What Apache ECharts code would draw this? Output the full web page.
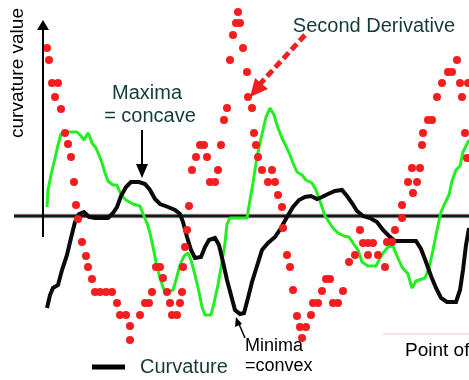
<!DOCTYPE html>
<html><head><meta charset="utf-8">
<script src="https://cdn.jsdelivr.net/npm/echarts@6/dist/echarts.min.js"></script>
<style>html,body{margin:0;padding:0;background:#fff}#c{width:469px;height:380px}</style>
</head><body><div id="c"></div>
<script>
// x = sample position (distance from the vertical axis), y = value (0 = baseline)
const curvature = [[4,-92],[7,-79],[10,-72],[15,-69],[19,-54],[24,-39],[28,-22],[32,-6],[36,2],[41,4],[46,-1],[52,-2],[65,-2],[70,3],[74,9],[78,20],[83,29],[88,34],[96,34],[102,32],[107,26],[112,17],[117,12],[125,9],[132,6],[137,2],[140,-6],[144,-21],[148,-34],[152,-42],[158,-41],[162,-31],[166,-24],[172,-22],[176,-29],[180,-46],[184,-64],[188,-79],[192,-94],[197,-98],[201,-97],[205,-82],[209,-66],[214,-50],[219,-34],[225,-27],[232,-21],[238,-12],[244,-1],[250,9],[256,16],[262,19],[268,20],[274,17],[279,19],[285,22],[292,25],[299,26],[304,20],[309,13],[314,5],[320,0],[327,-2],[334,-6],[340,-14],[346,-20],[352,-25],[373,-25],[378,-33],[383,-46],[388,-60],[393,-72],[398,-82],[404,-86],[413,-86],[417,-74],[420,-54],[423,-29],[426,-12]];
const firstDerivative = [[4,9],[5,26],[8,41],[12,58],[15,71],[18,82],[22,84],[34,84],[38,80],[41,76],[45,83],[47,79],[49,73],[53,68],[56,61],[59,53],[62,43],[65,35],[70,31],[74,31],[76,26],[79,20],[83,16],[90,12],[97,10],[100,2],[104,-7],[107,-17],[110,-31],[113,-46],[117,-62],[121,-74],[125,-76],[130,-74],[133,-64],[137,-49],[141,-40],[145,-37],[148,-44],[152,-59],[156,-76],[159,-91],[162,-99],[168,-99],[171,-87],[175,-69],[179,-46],[182,-27],[184,-8],[187,-2],[204,-2],[207,16],[210,33],[213,53],[216,69],[220,86],[223,99],[227,108],[231,101],[235,88],[239,78],[243,70],[247,61],[250,53],[254,44],[259,41],[263,36],[269,33],[273,26],[276,18],[279,9],[282,0],[286,-6],[290,-12],[295,-17],[301,-20],[306,-21],[310,-27],[315,-34],[319,-46],[325,-50],[333,-50],[337,-42],[341,-36],[345,-31],[350,-30],[354,-40],[359,-51],[365,-58],[369,-72],[373,-65],[382,-62],[386,-52],[390,-34],[394,-14],[398,4],[402,13],[406,21],[409,35],[413,46],[417,50],[420,64],[423,70],[426,76]];
const secondDerivative = [[4,168],[6,156],[9,133],[15,133],[12,119],[18,107],[22,83],[25,72],[28,59],[31,34],[33,11],[35,-3],[39,-26],[43,-40],[45,-51],[49,-63],[52,-76],[57,-76],[63,-76],[69,-76],[74,-87],[77,-99],[83,-99],[87,-110],[87,-124],[97,-99],[102,-87],[106,-87],[109,-76],[113,-51],[117,-51],[120,-62],[124,-76],[127,-87],[129,-99],[134,-99],[137,-87],[139,-76],[140,-51],[142,-31],[144,-14],[146,10],[149,46],[153,59],[157,71],[161,71],[164,59],[167,34],[172,34],[175,46],[178,71],[181,96],[184,108],[187,156],[190,181],[193,193],[195,204],[197,193],[200,168],[204,144],[205,119],[209,108],[211,83],[213,71],[215,59],[219,46],[229,46],[225,34],[232,34],[235,21],[239,9],[240,-12],[244,-39],[247,-51],[250,-74],[254,-100],[257,-111],[263,-111],[259,-122],[268,-99],[270,-87],[275,-87],[279,-75],[283,-63],[287,-63],[290,-87],[295,-87],[300,-75],[306,-46],[312,-39],[317,-14],[320,-27],[325,-27],[330,-27],[325,-39],[335,-39],[342,-51],[344,-26],[349,-26],[352,-14],[359,-2],[359,11],[370,23],[365,34],[374,34],[369,48],[377,48],[379,71],[380,83],[385,96],[389,96],[394,119],[399,133],[405,144],[409,144],[414,156],[417,133],[419,119],[422,83],[424,58],[425,133]];
const baseline = [[-29,0],[426,0]];

const FONT = '"Liberation Sans", Arial, Helvetica, sans-serif';
const TEAL = '#143a3a';
const chart = echarts.init(document.getElementById('c'), null, {renderer:'canvas'});
chart.setOption({
  animation:false,
  backgroundColor:'#fff',
  grid:{left:0,right:0,top:0,bottom:0},
  xAxis:{type:'value',min:-43,max:426,show:false},
  yAxis:{type:'value',min:-164,max:216,show:false},
  series:[
    {type:'line',data:[[340,-118],[426,-118]],symbol:'none',silent:true,lineStyle:{color:'#fae4e4',width:2},z:1},
    {type:'line',data:baseline,symbol:'none',lineStyle:{color:'#f8c4c4',width:5},z:2},
    {type:'line',data:baseline,symbol:'none',lineStyle:{color:'#061c1c',width:3},z:3},
    {type:'line',name:'First Derivative',data:firstDerivative,symbol:'none',lineStyle:{color:'#22ee22',width:3},z:4},
    {type:'line',name:'Curvature',data:curvature,symbol:'none',lineStyle:{color:'#0a0a0a',width:4,join:'miter'},z:5},
    {type:'scatter',name:'Second Derivative',data:secondDerivative,symbol:'circle',symbolSize:8,itemStyle:{color:'#f41e1e',opacity:1},z:6}
  ],
  graphic:[
    {type:'line',shape:{x1:43,y1:237,x2:43,y2:28},style:{stroke:'#000',lineWidth:2},z:10},
    {type:'polygon',shape:{points:[[37,30],[49,30],[43,20]]},style:{fill:'#000'},z:10},
    {type:'text',x:18,y:73,rotation:Math.PI/2,style:{text:'curvature value',font:'19px '+FONT,fill:'#000',align:'center',verticalAlign:'middle'},z:10},
    {type:'text',x:147,y:93,style:{text:'Maxima',font:'20px '+FONT,fill:TEAL,align:'center',verticalAlign:'middle'},z:10},
    {type:'text',x:150,y:116,style:{text:'= concave',font:'20px '+FONT,fill:TEAL,align:'center',verticalAlign:'middle'},z:10},
    {type:'line',shape:{x1:142,y1:130,x2:142,y2:166},style:{stroke:'#000',lineWidth:2},z:10},
    {type:'polygon',shape:{points:[[136,164],[148,164],[142,178]]},style:{fill:'#000'},z:10},
    {type:'text',x:374,y:26,style:{text:'Second Derivative',font:'20px '+FONT,fill:TEAL,align:'center',verticalAlign:'middle'},z:10},
    {type:'line',shape:{x1:305,y1:35,x2:260,y2:84},style:{stroke:'#f41e1e',lineWidth:5,lineDash:[8,4]},z:10},
    {type:'polygon',shape:{points:[[250,97],[255,78],[268,89]]},style:{fill:'#f41e1e'},z:10},
    {type:'line',shape:{x1:92,y1:367,x2:125,y2:367},style:{stroke:'#000',lineWidth:5},z:10},
    {type:'text',x:140,y:367,style:{text:'Curvature',font:'20px '+FONT,fill:TEAL,align:'left',verticalAlign:'middle'},z:10},
    {type:'line',shape:{x1:245,y1:338,x2:239,y2:324},style:{stroke:'#000',lineWidth:1.5},z:10},
    {type:'polygon',shape:{points:[[236,317],[235,327],[242,324]]},style:{fill:'#000'},z:10},
    {type:'text',x:245,y:346,style:{text:'Minima',font:'18px '+FONT,fill:'#000',align:'left',verticalAlign:'middle'},z:10},
    {type:'text',x:245,y:366,style:{text:'=convex',font:'18px '+FONT,fill:'#000',align:'left',verticalAlign:'middle'},z:10},
    {type:'text',x:405,y:351,style:{text:'Point of inflection',font:'19px '+FONT,fill:'#000',align:'left',verticalAlign:'middle'},z:10}
  ]
});
</script></body></html>
